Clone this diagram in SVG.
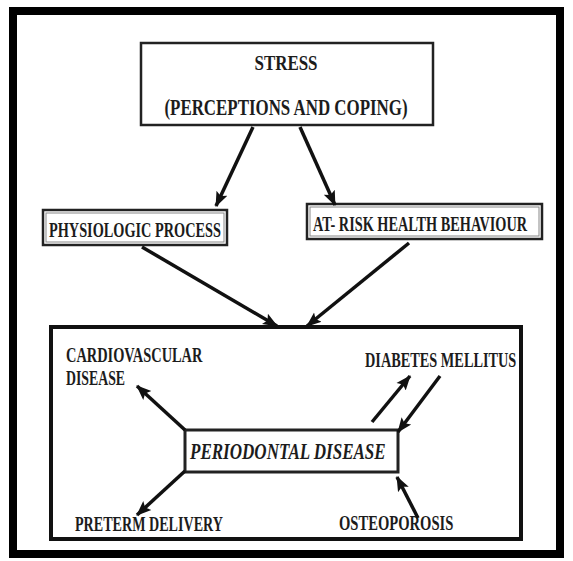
<svg xmlns="http://www.w3.org/2000/svg" width="573" height="561" viewBox="0 0 573 561">
  <defs>
    <marker id="ah" markerUnits="userSpaceOnUse" markerWidth="16" markerHeight="14" viewBox="0 0 16 14" refX="14" refY="7" orient="auto">
      <path d="M0,1 L15,7 L0,13 L3,7 Z" fill="#111"/>
    </marker>
  </defs>
  <style>
    .lbl { font-family: "Liberation Serif", "Times New Roman", serif; font-weight: bold; fill: #1c1c1c; }
    .box { fill: #fff; stroke: #222; }
    .inner { fill: none; stroke: #888; stroke-width: 1; }
    .conn line { stroke: #111; stroke-width: 3.5; stroke-linecap: butt; marker-end: url(#ah); }
  </style>
  <rect x="0" y="0" width="573" height="561" fill="#fff"/>
  <rect id="frame" x="13" y="11" width="547" height="543" fill="#fff" stroke="#000" stroke-width="8"/>

  <g id="stress">
    <rect class="box" x="141" y="43" width="292" height="82" stroke-width="2.5"/>
    <text class="lbl" transform="translate(286,70) scale(0.77,1)" font-size="22" text-anchor="middle">STRESS</text>
    <text class="lbl" transform="translate(286,115) scale(0.735,1)" font-size="23" text-anchor="middle">(PERCEPTIONS AND COPING)</text>
  </g>

  <g id="physiologic">
    <rect class="box" x="43" y="210" width="184" height="35" stroke-width="2.5"/>
    <rect class="inner" x="46" y="213" width="178" height="29"/>
    <text class="lbl" transform="translate(49,237) scale(0.715,1)" font-size="20">PHYSIOLOGIC PROCESS</text>
  </g>

  <g id="atrisk">
    <rect class="box" x="307" y="204" width="235" height="35" stroke-width="2.5"/>
    <rect class="inner" x="310" y="207" width="229" height="29"/>
    <text class="lbl" transform="translate(313,231) scale(0.715,1)" font-size="20">AT- RISK HEALTH BEHAVIOUR</text>
  </g>

  <g id="outcomes">
    <rect x="51" y="327" width="470" height="212" fill="none" stroke="#111" stroke-width="4"/>
  </g>

  <g id="cardiovascular">
    <text class="lbl" transform="translate(66,362) scale(0.72,1)" font-size="20">CARDIOVASCULAR</text>
    <text class="lbl" transform="translate(66,385) scale(0.69,1)" font-size="20">DISEASE</text>
  </g>

  <g id="diabetes">
    <text class="lbl" transform="translate(365,367) scale(0.715,1)" font-size="20">DIABETES MELLITUS</text>
  </g>

  <g id="periodontal">
    <rect class="box" x="185" y="430" width="213" height="42" stroke-width="3"/>
    <text class="lbl" transform="translate(190,459) scale(0.71,1)" font-size="24" font-style="italic">PERIODONTAL DISEASE</text>
  </g>

  <g id="preterm">
    <text class="lbl" transform="translate(75,531) scale(0.705,1)" font-size="20">PRETERM DELIVERY</text>
  </g>

  <g id="osteoporosis">
    <text class="lbl" transform="translate(339,530) scale(0.73,1)" font-size="20">OSTEOPOROSIS</text>
  </g>

  <g id="connectors" class="conn">
    <line x1="253" y1="127" x2="216" y2="206"/>
    <line x1="300" y1="127" x2="335" y2="205"/>
    <line x1="142" y1="247" x2="277" y2="326"/>
    <line x1="409" y1="243" x2="307" y2="326"/>
    <line x1="185" y1="430" x2="137" y2="386"/>
    <line x1="185" y1="471" x2="137" y2="515"/>
    <line x1="372" y1="422" x2="410" y2="376"/>
    <line x1="440" y1="376" x2="398" y2="432"/>
    <line x1="418" y1="518" x2="397" y2="477"/>
  </g>
</svg>
